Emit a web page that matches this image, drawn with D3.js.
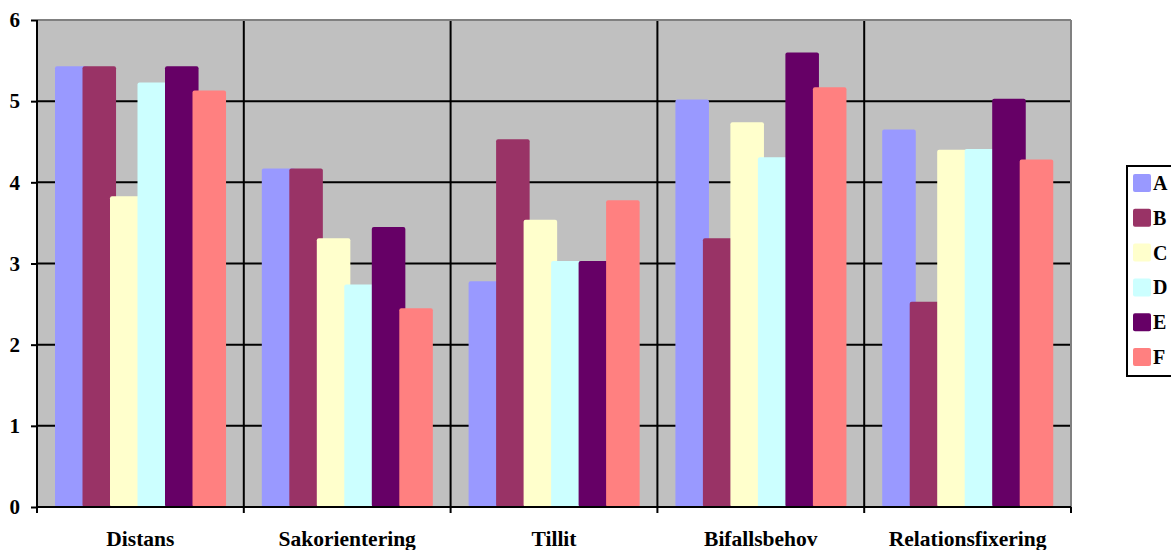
<!DOCTYPE html>
<html><head><meta charset="utf-8">
<script src="https://cdn.jsdelivr.net/npm/d3@7"></script>
<style>body{margin:0;background:#fff}svg{display:block}text{font-family:"Liberation Serif","Times New Roman",serif;font-weight:bold}</style>
</head><body>
<svg id="c" width="1171" height="550"></svg>
<script>
const categories = ["Distans","Sakorientering","Tillit","Bifallsbehov","Relationsfixering"];
const seriesNames = ["A","B","C","D","E","F"];
const seriesColors = ["#9999FF","#993366","#FFFFCC","#CCFFFF","#660066","#FF8080"];
const valuesA = [5.43,4.17,2.78,5.02,4.65];
const valuesB = [5.43,4.17,4.53,3.31,2.53];
const valuesC = [3.83,3.31,3.54,4.74,4.40];
const valuesD = [5.23,2.74,3.03,4.31,4.41];
const valuesE = [5.43,3.45,3.03,5.60,5.03];
const valuesF = [5.13,2.45,3.78,5.17,4.28];
const yTicks = [0,1,2,3,4,5,6];

const seriesValues = [valuesA,valuesB,valuesC,valuesD,valuesE,valuesF];
const svg = d3.select("#c");
const L=37, R=1071, T=20, B=507;
const x0 = d3.scaleBand().domain(categories).range([L,R]).paddingInner(0).paddingOuter(0);
const bw = x0.bandwidth();
const x1 = d3.scaleBand().domain(seriesNames).range([18, 18+6*27.5]).paddingInner(0).paddingOuter(0);
const barW = x1.step()*1.22;
const y = d3.scaleLinear().domain([0,6]).range([B,T]);

svg.append("rect").attr("x",L).attr("y",T).attr("width",R-L).attr("height",B-T).attr("fill","#C0C0C0");
// horizontal gridlines
svg.append("g").selectAll("line").data(yTicks.filter(d=>d>0&&d<6)).join("line")
  .attr("x1",L).attr("x2",R).attr("y1",d=>y(d)).attr("y2",d=>y(d)).attr("stroke","#000").attr("stroke-width",2);
// vertical separators
svg.append("g").selectAll("line").data(categories.slice(1)).join("line")
  .attr("x1",d=>x0(d)).attr("x2",d=>x0(d)).attr("y1",T).attr("y2",B).attr("stroke","#000").attr("stroke-width",2);
// top & right border
svg.append("line").attr("x1",L).attr("x2",R).attr("y1",T).attr("y2",T).attr("stroke","#808080").attr("stroke-width",2);
svg.append("line").attr("x1",R).attr("x2",R).attr("y1",T).attr("y2",B).attr("stroke","#808080").attr("stroke-width",2);

// bars
seriesNames.forEach((s,i)=>{
  svg.append("g").selectAll("rect").data(categories).join("rect")
    .attr("x",c=>x0(c)+x1(s)).attr("width",barW)
    .attr("y",(c,j)=>y(seriesValues[i][j])).attr("height",(c,j)=>B-y(seriesValues[i][j]))
    .attr("rx",2).attr("fill",seriesColors[i]);
});

// y axis
const ya = svg.append("g").attr("transform",`translate(${L},0)`)
  .call(d3.axisLeft(y).tickValues(yTicks).tickFormat(d3.format("d")).tickSize(6).tickPadding(11));
ya.select(".domain").attr("stroke","#000").attr("stroke-width",2).attr("d",`M0,${T}V${B}`);
ya.selectAll(".tick line").attr("stroke","#000").attr("stroke-width",2);
ya.selectAll("text").attr("font-size",21).attr("font-family","Liberation Serif").attr("font-weight","bold").attr("fill","#000");

// x axis
svg.append("line").attr("x1",L).attr("x2",R).attr("y1",B).attr("y2",B).attr("stroke","#000").attr("stroke-width",2);
const bounds = categories.map(c=>x0(c)).concat([R]);
svg.append("g").selectAll("line").data(bounds).join("line")
  .attr("x1",d=>d).attr("x2",d=>d).attr("y1",B).attr("y2",B+6).attr("stroke","#000").attr("stroke-width",2);
svg.append("g").selectAll("text").data(categories).join("text")
  .attr("x",c=>x0(c)+bw/2).attr("y",546).attr("text-anchor","middle").attr("font-size",21.5).text(c=>c);

// legend
const lg = svg.append("g");
lg.append("rect").attr("x",1127).attr("y",166).attr("width",60).attr("height",210).attr("fill","#fff").attr("stroke","#000").attr("stroke-width",2);
seriesNames.forEach((s,i)=>{
  const cy = 183 + i*34.8;
  lg.append("rect").attr("x",1133).attr("y",cy-9).attr("width",18).attr("height",18).attr("rx",2).attr("fill",seriesColors[i]);
  lg.append("text").attr("x",1153).attr("y",cy+7).attr("font-size",20).text(s);
});
</script>
</body></html>
